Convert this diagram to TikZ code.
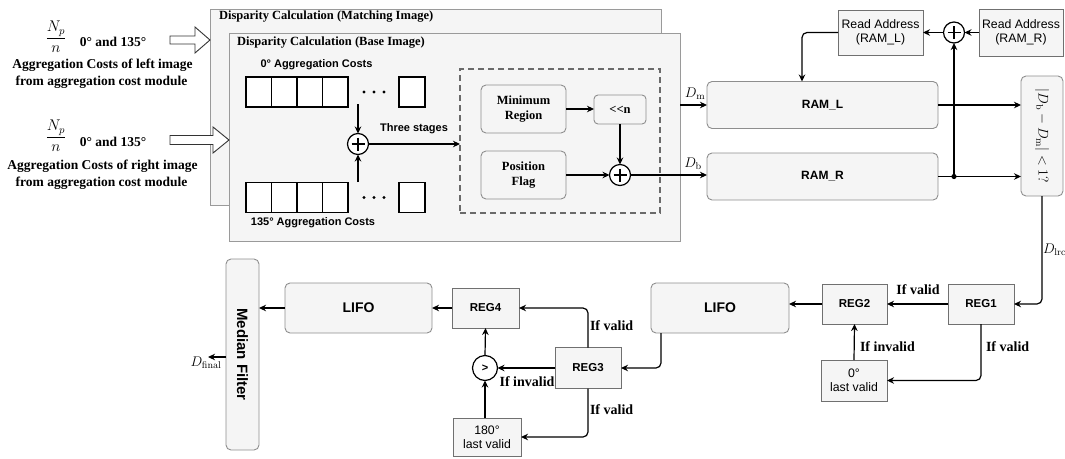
\documentclass[tikz,border=0pt]{standalone}
\usepackage{fix-cm}
\usepackage[no-math]{fontspec}
\setmainfont{Liberation Serif}
\setsansfont{Liberation Sans}
\usetikzlibrary{arrows.meta,calc}
\definecolor{boxfill}{HTML}{F5F5F5}
\definecolor{boxline}{HTML}{8E8E8E}
\definecolor{regline}{HTML}{707070}
\definecolor{frameline}{HTML}{9A9A9A}
\definecolor{dashline}{HTML}{6A6A6A}

\begin{document}
\begin{tikzpicture}[x=1pt,y=-1pt,
  every node/.style={inner sep=0pt, outer sep=0pt},
  conn/.style={draw=black, line width=1.2pt, -{Stealth[length=7pt,width=6.5pt]}},
  wire/.style={draw=black, line width=1.2pt},
  frame/.style={draw=frameline, fill=boxfill, line width=0.9pt, anchor=north west},
  rbox/.style={draw=boxline, fill=boxfill, rounded corners=5pt, line width=0.9pt},
  regbox/.style={draw=regline, fill=boxfill, line width=0.9pt, align=center,
    font=\sffamily\fontsize{12.3}{14.3}\selectfont},
  regname/.style={regbox, font=\sffamily\bfseries\fontsize{11.5}{13.5}\selectfont},
  cell/.style={draw=black, fill=white, line width=1.4pt, minimum width=25.5pt, minimum height=30pt},
  sum/.style={circle, draw=black, fill=white, line width=1.2pt, minimum size=21pt,
    path picture={\draw[line width=1.1pt]
      ($(path picture bounding box.center)+(-6.5,0)$) -- ++(13,0)
      ($(path picture bounding box.center)+(0,-6.5)$) -- ++(0,13);}},
  sbold/.style={font=\sffamily\bfseries\fontsize{11}{13}\selectfont},
  rambold/.style={font=\sffamily\bfseries\fontsize{12}{14}\selectfont},
  tbold/.style={font=\bfseries\fontsize{12.5}{14.5}\selectfont, align=center},
  ttitle/.style={font=\bfseries\fontsize{12.5}{14.5}\selectfont, anchor=west},
  tleft/.style={font=\bfseries\fontsize{13.5}{16}\selectfont},
  fracsty/.style={font=\fontsize{15.5}{18}\selectfont},
  cond/.style={font=\bfseries\fontsize{14}{16}\selectfont},
  mlab/.style={font=\fontsize{14}{16}\selectfont},
  hollow/.style={draw=black!80, fill=white, line width=0.9pt},
]
\useasboundingbox (0,0) rectangle (1065,458);

% ---------- inputs on the left ----------
\node[fracsty] (frac1) at (56,37) {$\displaystyle\frac{N_p}{n}$};
\node[tleft] (ang1) at (113,42) {0° and 135°};
\node[tleft] (lin1) at (102.5,65) {Aggregation Costs of left image};
\node[tleft] (src1) at (101.5,82) {from aggregation cost module};
\node[fracsty] (frac2) at (56,136) {$\displaystyle\frac{N_p}{n}$};
\node[tleft] (ang2) at (113,142) {0° and 135°};
\node[tleft] (lin2) at (102.5,166) {Aggregation Costs of right image};
\node[tleft] (src2) at (101.5,183) {from aggregation cost module};

% ---------- disparity calculation frames ----------
\node[frame, minimum width=451pt, minimum height=196pt] (outer) at (210,9) {};
\node[ttitle] (outert) at (219,17) {Disparity Calculation (Matching Image)};
\node[frame, minimum width=451pt, minimum height=208pt] (inner) at (229,33) {};
\node[ttitle] (innert) at (237,43) {Disparity Calculation (Base Image)};

% block arrows feeding the frames
\draw[hollow] (170,36) -- (195,36) -- (195,27) -- (210,40) -- (195,53) -- (195,44) -- (170,44) -- cycle;
\draw[hollow] (170,135.5) -- (213,135.5) -- (213,127) -- (229,140) -- (213,153) -- (213,144.5) -- (170,144.5) -- cycle;

% aggregation cost registers
\node[sbold] (lab0) at (316.5,65) {0° Aggregation Costs};
\node[cell] (c11) at (258.75,92) {};
\node[cell] (c12) at (284.25,92) {};
\node[cell] (c13) at (309.75,92) {};
\node[cell] (c14) at (335.25,92) {};
\node[cell, minimum width=26pt] (c1n) at (412,92) {};
\foreach \xx in {364,374,384} \fill (\xx,92) circle (1.6);

\node[cell] (c21) at (258.75,197.5) {};
\node[cell] (c22) at (284.25,197.5) {};
\node[cell] (c23) at (309.75,197.5) {};
\node[cell] (c24) at (335.25,197.5) {};
\node[cell, minimum width=26pt] (c2n) at (412,197.5) {};
\foreach \xx in {364,374,384} \fill (\xx,197.5) circle (1.6);
\node[sbold] (lab135) at (313,223) {135° Aggregation Costs};

\node[sum] (s1) at (358,144) {};
\coordinate (in1) at (358,104);
\coordinate (in2) at (358,182);
\draw[conn] (in1) -- (s1.north);
\draw[conn] (in2) -- (s1.south);

% three-stage block
\node[draw=dashline, line width=1.4pt, dash pattern=on 6pt off 4pt,
      minimum width=200pt, minimum height=144pt, anchor=north west] (stage) at (460,69) {};
\draw[conn] (s1.east) -- (s1.east -| stage.west);
\node[sbold] (three) at (414,129) {Three stages};

\node[rbox, minimum width=85pt, minimum height=48pt, tbold] (minr) at (523.5,109) {Minimum\\Region};
\node[rbox, rounded corners=4pt, minimum width=52pt, minimum height=29pt, tbold] (shift) at (620,109.5) {<\kern0pt<n};
\node[rbox, minimum width=85pt, minimum height=48pt, tbold] (posf) at (523.5,175) {Position\\Flag};
\node[sum] (s2) at (620,175) {};
\draw[conn] (minr.east) -- (minr.east -| shift.west);
\draw[conn] (shift.south) -- (s2.north);
\draw[conn] (posf.east) -- (s2.west);

% ---------- RAMs and read addresses ----------
\node[rbox, minimum width=231pt, minimum height=47pt, rambold] (ramL) at (822.5,105) {RAM\_L};
\node[rbox, minimum width=231pt, minimum height=47pt, rambold] (ramR) at (822.5,176.5) {RAM\_R};

\draw[conn] (inner.east |- ramL.west) -- (ramL.west);
\node[mlab] (dm) at (695,94) {$D_{\mathrm{m}}$};
\draw[conn] (s2.east) -- (s2.east -| ramR.west);
\node[mlab] (db) at (693,164) {$D_{\mathrm{b}}$};

\node[regbox, minimum width=85pt, minimum height=45pt] (ral) at (880.5,32.5) {Read Address\\(RAM\_L)};
\node[regbox, minimum width=84pt, minimum height=47pt] (rar) at (1021,32.5) {Read Address\\(RAM\_R)};
\node[sum] (s3) at (954,32.5) {};
\draw[conn] (rar.west) -- (s3.east);
\draw[conn] (s3.west) -- (ral.east);
\draw[conn, rounded corners=5pt] (ral.west) -| ([xshift=-20.5pt]ramL.north);

% left-right consistency check
\node[rbox, minimum width=42pt, minimum height=120pt] (chk) at (1042,136) {};
\node[rotate=-90, mlab] (chkt) at (chk.center) {$|D_{\mathrm{b}}-D_{\mathrm{m}}|<1?$};
\coordinate (j) at (ramR.east -| s3);
\draw[conn] (ramL.east) -- (ramL.east -| chk.west);
\draw[wire] (ramR.east) -- (j);
\draw[conn] (j) -- (j -| chk.west);
\draw[conn] (j) -- (s3.south);
\fill (j) circle (2.6);

% ---------- hole filling and median filter ----------
\node[regname, minimum width=66pt, minimum height=40pt] (reg1) at (981,304) {REG1};
\node[regname, minimum width=65pt, minimum height=40pt] (reg2) at (854.5,304) {REG2};
\node[regbox, minimum width=66pt, minimum height=41pt] (lv0) at (854,380.5) {0°\\last valid};
\draw[conn, rounded corners=5pt] (chk.south) |- (reg1.east);
\node[mlab, anchor=west] (dlrc) at (1043,250) {$D_{\mathrm{lrc}}$};
\draw[conn] (reg1.west) -- (reg2.east);
\node[cond] (v1) at (918,290) {If valid};
\draw[conn] (lv0.north) -- (reg2.south);
\node[cond, anchor=west] (iv1) at (860,347) {If invalid};
\draw[conn, rounded corners=5pt] (reg1.south) |- (lv0.east);
\node[cond, anchor=west] (v2) at (986,347) {If valid};

\node[rbox, minimum width=138pt, minimum height=50pt, font=\sffamily\bfseries\fontsize{14}{16}\selectfont] (lifo2) at (720,308) {LIFO};
\draw[conn] (reg2.west) -- (reg2.west -| lifo2.east);

\node[regname, minimum width=66pt, minimum height=41pt] (reg3) at (588,368) {REG3};
\draw[conn, rounded corners=5pt] ([xshift=-59pt]lifo2.south) |- (reg3.east);

\node[regname, minimum width=67pt, minimum height=40pt] (reg4) at (485.5,308) {REG4};
\node[regbox, minimum width=68pt, minimum height=38pt] (lv180) at (487,437) {180°\\last valid};
\node[circle, draw=black, fill=white, line width=1.2pt, minimum size=25pt, sbold] (gt) at (485,368) {>};

\draw[conn, rounded corners=5pt] (reg3.north) |- (reg4.east);
\node[cond, anchor=west] (v3) at (590,326) {If valid};
\draw[conn, rounded corners=5pt] (reg3.south) |- (lv180.east);
\node[cond, anchor=west] (v4) at (590,410) {If valid};
\draw[conn] (reg3.west) -- (gt.east);
\node[cond] (iv2) at (527,382) {If invalid};
\draw[conn] (gt.north) -- (reg4.south);
\draw[conn] (lv180.north -| gt) -- (gt.south);

\node[rbox, minimum width=147pt, minimum height=50pt, font=\sffamily\bfseries\fontsize{14}{16}\selectfont] (lifo1) at (358.5,308) {LIFO};
\draw[conn] (reg4.west) -- (reg4.west -| lifo1.east);

\node[rbox, minimum width=33pt, minimum height=191pt] (med) at (242.5,354.5) {};
\node[rotate=-90, font=\sffamily\bfseries\fontsize{15}{17}\selectfont] (medt) at (med.center) {Median Filter};
\draw[conn] (lifo1.west) -- (lifo1.west -| med.east);
\coordinate (dfin) at (208,357);
\draw[conn] (med.west |- dfin) -- (dfin);
\node[mlab] (dfinal) at (206,363) {$D_{\mathrm{final}}$};
\end{tikzpicture}
\end{document}
